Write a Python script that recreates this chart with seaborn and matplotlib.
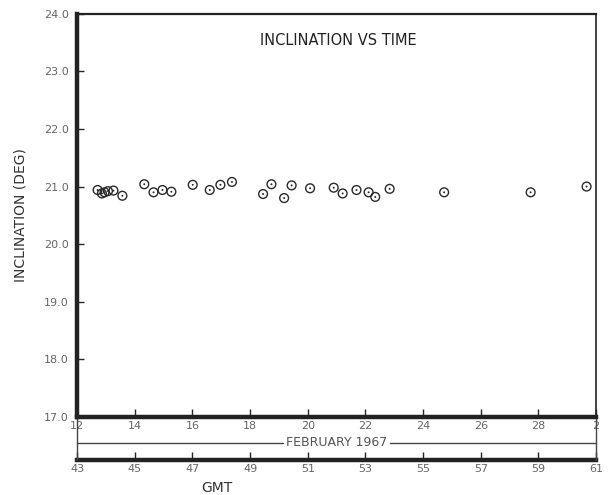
import numpy as np
import pandas as pd
import matplotlib
matplotlib.use("Agg")
import matplotlib.pyplot as plt
from matplotlib.lines import Line2D
import seaborn as sns

# Day of year (GMT) and inclination
gmt_day = [43.71, 43.86, 43.95, 44.07, 44.26, 44.57, 45.33, 45.65, 45.96, 46.27,
           47.01, 47.60, 47.97, 48.37, 49.45, 49.74, 50.18, 50.44, 51.08, 51.90,
           52.21, 52.69, 53.11, 53.34, 53.84, 55.73, 58.73, 60.67]
inclination = [20.94, 20.88, 20.90, 20.92, 20.93, 20.84, 21.04, 20.90, 20.94, 20.91,
               21.03, 20.94, 21.03, 21.08, 20.87, 21.04, 20.80, 21.02, 20.97, 20.98,
               20.88, 20.94, 20.90, 20.82, 20.96, 20.90, 20.90, 21.00]

tick_pos = [43, 45, 47, 49, 51, 53, 55, 57, 59, 61]
date_labels = ["12", "14", "16", "18", "20", "22", "24", "26", "28", "2"]
gmt_labels = ["43", "45", "47", "49", "51", "53", "55", "57", "59", "61"]
y_ticks = [17.0, 18.0, 19.0, 20.0, 21.0, 22.0, 23.0, 24.0]

df = pd.DataFrame({"GMT": gmt_day, "Inclination": inclination})

sns.set_style("white")
plt.rcParams["font.family"] = ["DejaVu Sans"]

fig = plt.figure(figsize=(6.12, 4.95), dpi=100)
ax = fig.add_axes([0.126, 0.158, 0.848, 0.814])

# open circle with a centre dot
sns.scatterplot(data=df, x="GMT", y="Inclination", ax=ax, marker="o", s=40,
                facecolors="none", edgecolor="#2a2a2a", linewidth=1.0, zorder=3)
sns.scatterplot(data=df, x="GMT", y="Inclination", ax=ax, marker="o", s=2,
                color="#2a2a2a", edgecolor="none", zorder=4)

ax.set_xlim(43, 61)
ax.set_ylim(17, 24)
ax.set_xlabel("")
ax.set_ylabel("INCLINATION (DEG)", fontsize=10, color="#333333", labelpad=12)

ax.set_yticks(y_ticks, labels=[f"{v:.1f}" for v in y_ticks])
ax.set_xticks(tick_pos, labels=date_labels)
ax.tick_params(axis="y", direction="in", length=5, width=1, labelsize=8,
               labelcolor="#666666", pad=6, left=True)
ax.tick_params(axis="x", direction="in", length=6, width=1, labelsize=8,
               labelcolor="#666666", pad=3, bottom=True)

for side, lw in [("left", 3.2), ("bottom", 3.2), ("top", 1.6), ("right", 1.2)]:
    ax.spines[side].set_visible(True)
    ax.spines[side].set_linewidth(lw)
    ax.spines[side].set_color("#222222")

ax.text(0.503, 0.935, "INCLINATION VS TIME", transform=ax.transAxes,
        ha="center", va="center", fontsize=10.5, color="#222222")

# second time scale (GMT day of year)
sec = ax.secondary_xaxis(-0.107)
sec.set_xticks(tick_pos, labels=gmt_labels)
sec.spines["bottom"].set_linewidth(3.2)
sec.spines["bottom"].set_color("#222222")
sec.tick_params(direction="in", length=6, width=1, labelsize=8,
                labelcolor="#666666", pad=3)
ax.text(0.27, -0.176, "GMT", transform=ax.transAxes, ha="center", va="center",
        fontsize=10, color="#333333")

# month band between the two scales
y_band = -0.0645
ax.add_line(Line2D([0, 0.396], [y_band, y_band], transform=ax.transAxes,
                   color="#444444", lw=1, clip_on=False))
ax.add_line(Line2D([0.603, 1.0], [y_band, y_band], transform=ax.transAxes,
                   color="#444444", lw=1, clip_on=False))
ax.text(0.4995, y_band, "FEBRUARY 1967", transform=ax.transAxes, ha="center",
        va="center", fontsize=9, color="#555555")
for xb in [0.0, 1.0]:
    ax.add_line(Line2D([xb, xb], [0, -0.107], transform=ax.transAxes,
                       color="#444444", lw=1, clip_on=False))

fig.savefig("out.png", dpi=100)
